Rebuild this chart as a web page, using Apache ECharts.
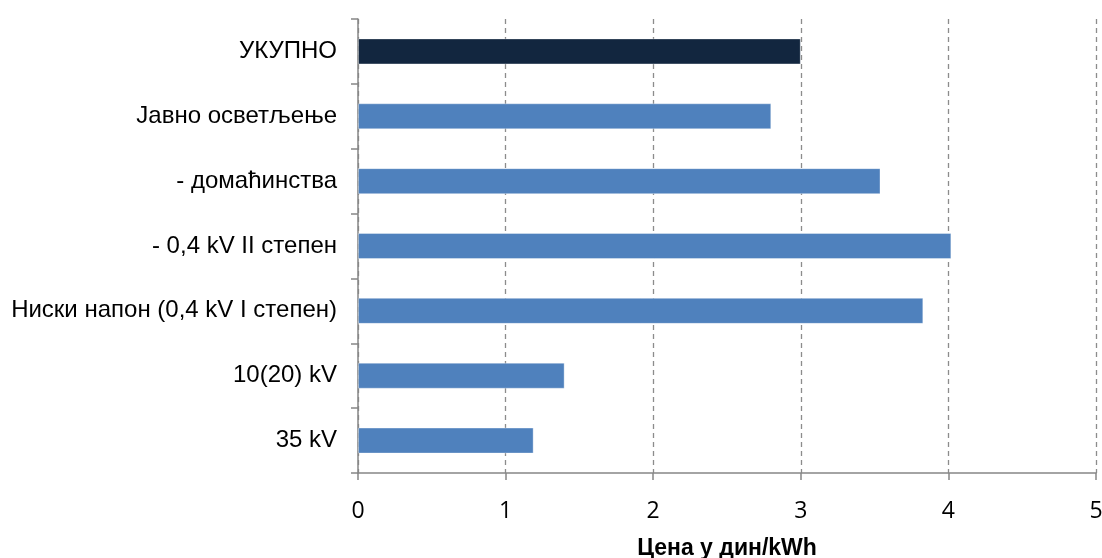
<!DOCTYPE html>
<html>
<head>
<meta charset="utf-8">
<script src="https://cdn.jsdelivr.net/npm/echarts@6/dist/echarts.min.js"></script>
<style>
  html, body { margin: 0; padding: 0; background: #fff; }
  #chart { width: 1102px; height: 558px; }
</style>
</head>
<body>
<div id="chart"></div>
<script>
  // categories from bottom to top
  var categories = ['35 kV', '10(20) kV', 'Ниски напон (0,4 kV I степен)', '- 0,4 kV II степен', '- домаћинства', 'Јавно осветљење', 'УКУПНО'];
  var prices = [1.19, 1.40, 3.83, 4.02, 3.54, 2.80, 3.00];
  var xTicks = [0, 1, 2, 3, 4, 5];

  var myChart = echarts.init(document.getElementById('chart'));
  myChart.setOption({
    animation: false,
    grid: {
      left: 358,
      right: 6,
      top: 19,
      bottom: 85,
      outerBoundsMode: 'none',
      containLabel: false
    },
    xAxis: {
      type: 'value',
      min: xTicks[0],
      max: xTicks[xTicks.length - 1],
      interval: 1,
      name: 'Цена у дин/kWh',
      nameLocation: 'middle',
      nameGap: 64,
      nameTextStyle: {
        fontFamily: 'Liberation Sans',
        fontWeight: 'bold',
        fontSize: 23,
        color: '#000'
      },
      axisLine: { show: true, lineStyle: { color: '#868686', width: 1.5 } },
      axisTick: { show: true, length: 7, lineStyle: { color: '#868686', width: 1.5 } },
      axisLabel: {
        margin: 27,
        fontFamily: 'Open Sans',
        fontSize: 23,
        color: '#000'
      },
      splitLine: {
        show: true,
        lineStyle: { color: '#8c8c8c', type: [5, 4], width: 1.3 }
      }
    },
    yAxis: {
      type: 'category',
      data: categories,
      axisLine: { show: true, lineStyle: { color: '#868686', width: 1.5 } },
      axisTick: { show: true, length: 7, lineStyle: { color: '#868686', width: 1.5 } },
      axisLabel: {
        margin: 21,
        fontFamily: 'Liberation Sans',
        fontSize: 24,
        color: '#000'
      }
    },
    series: [{
      type: 'bar',
      barWidth: 26,
      data: prices.map(function (v, i) {
        return {
          value: v,
          itemStyle: { color: i === prices.length - 1 ? '#12263f' : '#4f81bd' }
        };
      }),
      itemStyle: {
        borderColor: 'rgba(255,255,255,0.35)',
        borderWidth: 1
      }
    }]
  });
</script>
</body>
</html>
